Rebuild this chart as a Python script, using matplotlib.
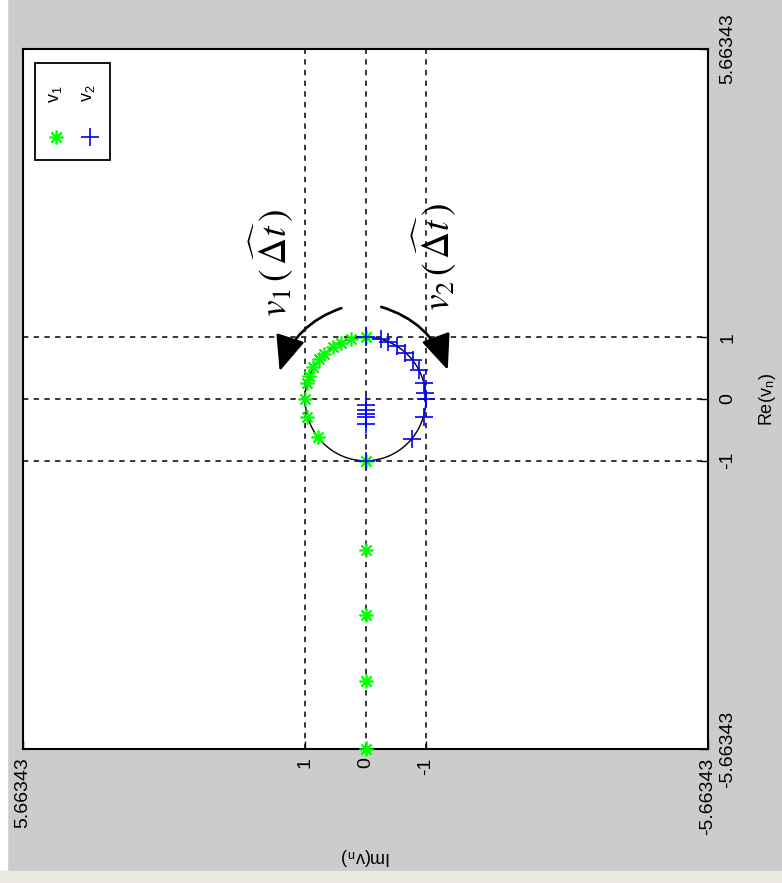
import numpy as np
import matplotlib.pyplot as plt
from matplotlib.patches import Rectangle

plt.rcParams.update({
    "font.family": ["Liberation Sans", "DejaVu Sans"],
    "mathtext.fontset": "stix",
    "axes.unicode_minus": False,
})

LIM = 5.66343

# v1 (green stars): real / imaginary parts
v1_re = [1.0, 0.97, 0.91, 0.84, 0.73, 0.64, 0.52, 0.37, 0.26, 0.0, -0.29, -0.62, -1.0,
         -2.44, -3.49, -4.56, -5.66343]
v1_im = [0.0, 0.24, 0.41, 0.54, 0.68, 0.77, 0.86, 0.93, 0.97, 1.0, 0.96, 0.79, 0.0,
         0.0, 0.0, 0.0, 0.0]

# v2 (blue plus)
v2_re = [1.0, 0.97, 0.93, 0.86, 0.75, 0.63, 0.47, 0.26, 0.10, 0.0, -0.29, -0.64, -1.0,
         -0.10, -0.18, -0.235, -0.29, -0.40]
v2_im = [0.0, -0.26, -0.37, -0.52, -0.66, -0.78, -0.88, -0.97, -0.99, -1.0, -0.96, -0.77, 0.0,
         0.0, 0.0, 0.0, 0.0, 0.0]

tick_vals = [LIM, 1, 0, -1, -LIM]
tick_labels = ["5.66343", "1", "0", "-1", "-5.66343"]
rtick_vals = [-LIM, -1, 0, 1, LIM]
rtick_labels = ["-5.66343", "-1", "0", "1", "5.66343"]

fig = plt.figure(figsize=(7.82, 8.83), dpi=100, facecolor="#cccccc")
fig.patches.append(Rectangle((0, 0), 7 / 782, 1, transform=fig.transFigure,
                             color="white", zorder=-1))
fig.patches.append(Rectangle((0, 0), 1, 12 / 883, transform=fig.transFigure,
                             color="#ebe8e0", zorder=-1))

ax = fig.add_axes([23 / 782, 134 / 883, 685 / 782, 700 / 883])
ax.set_facecolor("white")

# the figure is a rotated complex plane: x = Im (reversed), y = Re
ax.set_xlim(LIM, -LIM)
ax.set_ylim(-LIM, LIM)

# unit circle
th = np.linspace(0, 2 * np.pi, 400)
ax.plot(np.sin(th), np.cos(th), color="black", lw=1.0, zorder=2)

for v in [-1, 0, 1]:
    ax.axhline(v, color="black", ls=(0, (3.5, 3.5)), lw=1.1, zorder=1)
    ax.axvline(v, color="black", ls=(0, (3.5, 3.5)), lw=1.1, zorder=1)

ax.plot(v1_im, v1_re, ls="none", marker=(8, 2, 0), ms=10, mew=1.2,
        color="#00ff00", clip_on=False, zorder=3)
ax.plot(v2_im, v2_re, ls="none", marker="+", ms=13, mew=1.2,
        color="#0000ff", clip_on=False, zorder=4)

# curved arrows
ax.annotate("", xy=(1.42, 0.45), xytext=(0.40, 1.47),
            arrowprops=dict(arrowstyle="-|>,head_length=1.0,head_width=0.42",
                            connectionstyle="arc3,rad=0.25", color="black",
                            lw=1.9, mutation_scale=22, shrinkA=0, shrinkB=0))
ax.annotate("", xy=(-1.36, 0.47), xytext=(-0.26, 1.49),
            arrowprops=dict(arrowstyle="-|>,head_length=1.0,head_width=0.42",
                            connectionstyle="arc3,rad=-0.25", color="black",
                            lw=1.9, mutation_scale=22, shrinkA=0, shrinkB=0))

ax.text(1.55, 2.2, r"$v_1\,(\,\widehat{\Delta t}\,)$", rotation=90,
        fontsize=27, ha="center", va="center")
ax.text(-1.15, 2.3, r"$v_2\,(\,\widehat{\Delta t}\,)$", rotation=90,
        fontsize=27, ha="center", va="center")

# hand-made legend (rotated like the rest)
ax.add_patch(Rectangle((0.0175, 0.841), 0.11, 0.139, transform=ax.transAxes,
                       fill=False, ec="black", lw=1.3, zorder=5))
ax.text(0.047, 0.935, r"$\mathregular{v_1}$", rotation=90, fontsize=13,
        transform=ax.transAxes, ha="center", va="center")
ax.text(0.096, 0.937, r"$\mathregular{v_2}$", rotation=90, fontsize=13,
        transform=ax.transAxes, ha="center", va="center")
ax.plot([0.048], [0.874], transform=ax.transAxes, ls="none", marker=(8, 2, 0),
        ms=10, mew=1.2, color="#00ff00")
ax.plot([0.098], [0.874], transform=ax.transAxes, ls="none", marker="+",
        ms=13, mew=1.2, color="#0000ff")

ax.set_xticks(tick_vals)
ax.set_xticklabels(tick_labels)
ax.yaxis.tick_right()
ax.set_yticks(rtick_vals)
ax.set_yticklabels(rtick_labels)
ax.tick_params(direction="in", length=6, width=1, labelsize=14, color="black")
ax.tick_params(axis="x", pad=6)
ax.tick_params(axis="y", pad=8)
plt.setp(ax.get_xticklabels(), rotation=90, ha="center", va="top")
plt.setp(ax.get_yticklabels(), rotation=90, ha="left", va="center")

for s in ax.spines.values():
    s.set_linewidth(1.5)

fig.text(366 / 782, 1 - 857 / 883, r"Im(v$_\mathregular{n}$)", rotation=180,
         fontsize=13, ha="center", va="center")
fig.text(767 / 782, 1 - 400 / 883, r"Re(v$_\mathregular{n}$)", rotation=90,
         fontsize=13, ha="center", va="center")

fig.savefig("out.png", dpi=100, facecolor=fig.get_facecolor())
